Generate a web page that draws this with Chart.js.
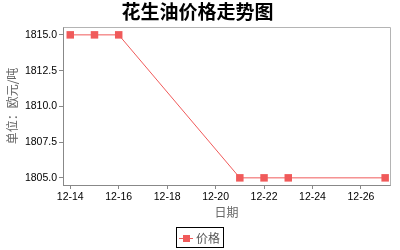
<!DOCTYPE html>
<html>
<head>
<meta charset="utf-8">
<script src="https://cdn.jsdelivr.net/npm/chart.js@4.4.1/dist/chart.umd.min.js"></script>
<style>
  body { margin: 0; background: #fff; }
</style>
</head>
<body>
<canvas id="priceChart" width="400" height="250"></canvas>
<script>
// data
var dates = ["12-14", "12-15", "12-16", "12-21", "12-22", "12-23", "12-27"];
var prices = [1815, 1815, 1815, 1805, 1805, 1805, 1805];
var xTickLabels = ["12-14", "12-16", "12-18", "12-20", "12-22", "12-24", "12-26"];
var yTickValues = [1805, 1807.5, 1810, 1812.5, 1815];

var lineColor = "#f05a5a";

function dayOf(label) {
    return parseInt(label.split("-")[1], 10);
}

var points = [];
for (var i in dates) {
    points.push({ x: dayOf(dates[i]), y: prices[i] });
}

// plot outline + boxed legend like the original
var extras = {
    id: "extras",
    beforeDatasetsDraw: function(chart) {
        var ctx = chart.ctx, a = chart.chartArea;
        ctx.save();
        ctx.strokeStyle = "#b4b4b4";
        ctx.lineWidth = 1;
        ctx.beginPath();
        ctx.moveTo(Math.round(a.left) + 0.5, Math.round(a.top) + 0.5);
        ctx.lineTo(Math.round(a.right) + 0.5, Math.round(a.top) + 0.5);
        ctx.lineTo(Math.round(a.right) + 0.5, Math.round(a.bottom) + 0.5);
        ctx.stroke();
        ctx.restore();
    },
    afterDraw: function(chart) {
        var ctx = chart.ctx;
        ctx.save();
        ctx.strokeStyle = "#000";
        ctx.lineWidth = 1;
        ctx.strokeRect(176.5, 227.5, 47, 20);
        ctx.strokeStyle = lineColor;
        ctx.beginPath();
        ctx.moveTo(179, 238.5);
        ctx.lineTo(193, 238.5);
        ctx.stroke();
        ctx.fillStyle = lineColor;
        ctx.fillRect(183, 235, 7, 7);
        ctx.fillStyle = "#555";
        ctx.font = "12px 'Noto Sans CJK SC'";
        ctx.textBaseline = "middle";
        ctx.fillText(chart.data.datasets[0].label, 196, 238);
        ctx.restore();
    }
};

new Chart(document.getElementById("priceChart"), {
    type: "line",
    data: {
        datasets: [{
            label: "价格",
            data: points,
            borderColor: lineColor,
            backgroundColor: lineColor,
            borderWidth: 1,
            pointStyle: "rect",
            pointRadius: 5.3,
            pointBorderWidth: 0,
            pointBackgroundColor: lineColor,
            tension: 0
        }]
    },
    options: {
        responsive: false,
        animation: false,
        layout: { padding: { left: 5, right: 10, top: 0, bottom: 0 } },
        plugins: {
            legend: { display: false },
            tooltip: { enabled: false },
            title: {
                display: true,
                text: "花生油价格走势图",
                color: "#000",
                font: { family: "'Noto Sans CJK SC'", size: 19, weight: "bold", lineHeight: 1.2 },
                padding: { top: 0, bottom: 4.2 }
            }
        },
        scales: {
            x: {
                type: "linear",
                min: 13.7,
                max: 27.2,
                afterFit: function(scale) { scale.height = 65; },
                afterBuildTicks: function(scale) {
                    scale.ticks = xTickLabels.map(function(t) { return { value: dayOf(t) }; });
                },
                ticks: {
                    autoSkip: false,
                    maxRotation: 0,
                    padding: 2,
                    color: "#000",
                    font: { family: "'Liberation Sans'", size: 10.5 },
                    callback: function(v) {
                        return "12-" + v;
                    }
                },
                grid: { drawOnChartArea: false, tickLength: 4, color: "#888" },
                border: { color: "#888", width: 1 },
                title: {
                    display: true,
                    text: "日期",
                    color: "#666",
                    font: { family: "'Noto Sans CJK SC'", size: 12, lineHeight: 1.2 },
                    padding: { top: 0, bottom: 30.8 }
                }
            },
            y: {
                min: 1804.5,
                max: 1815.55,
                afterFit: function(scale) { scale.width = 58; },
                afterBuildTicks: function(scale) {
                    scale.ticks = yTickValues.map(function(v) { return { value: v }; });
                },
                ticks: {
                    autoSkip: false,
                    padding: 2,
                    color: "#000",
                    font: { family: "'Liberation Sans'", size: 10.5 },
                    callback: function(v) {
                        return Number(v).toFixed(1);
                    }
                },
                grid: { drawOnChartArea: false, tickLength: 4, color: "#888" },
                border: { color: "#888", width: 1 },
                title: {
                    display: true,
                    text: "单位：欧元/吨",
                    color: "#666",
                    font: { family: "'Noto Sans CJK SC'", size: 12, lineHeight: 1.2 },
                    padding: { top: 0, bottom: 0 }
                }
            }
        }
    },
    plugins: [extras]
});
</script>
</body>
</html>
